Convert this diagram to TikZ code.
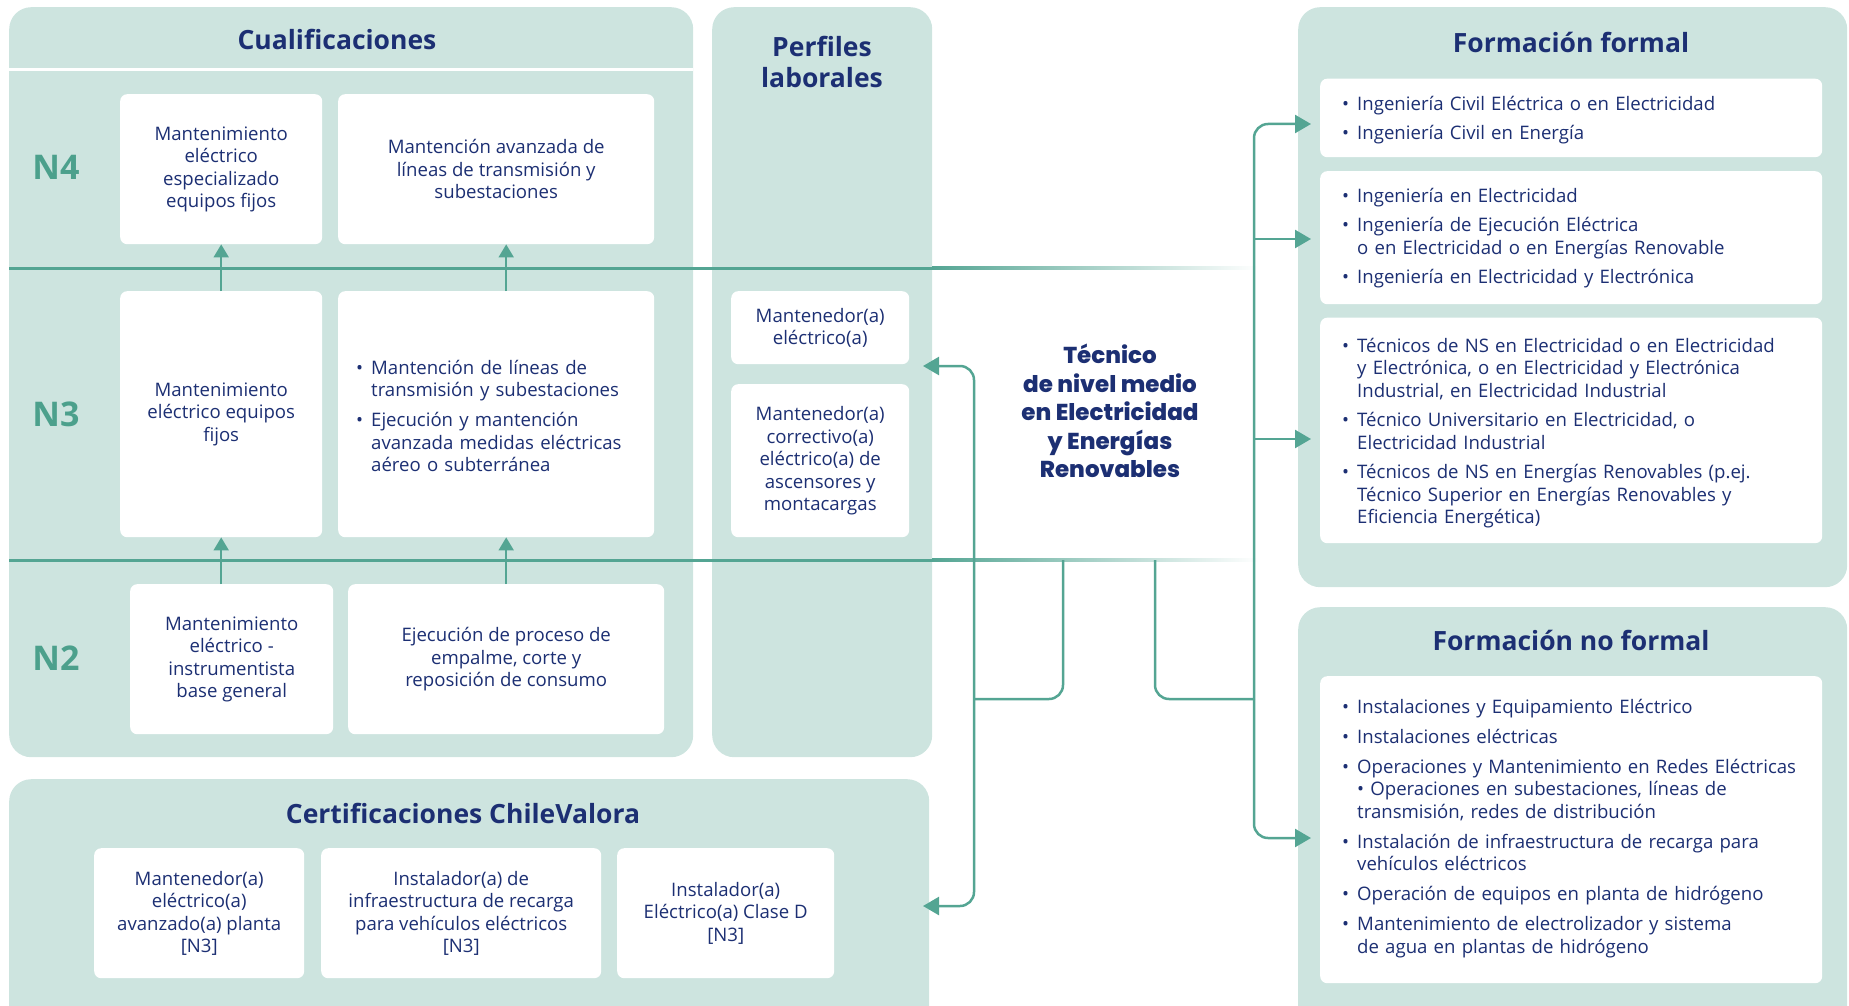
\documentclass[tikz,border=0pt]{standalone}
\usepackage{fontspec}
\setmainfont{Open Sans}
\newfontfamily\heavyfont{Poppins}[BoldFont={Poppins ExtraBold}]
\usetikzlibrary{arrows.meta,positioning,calc}

\definecolor{panelbg}{RGB}{205,228,223}
\definecolor{lineteal}{RGB}{84,165,147}
\definecolor{navy}{RGB}{28,47,115}
\definecolor{levelteal}{RGB}{76,160,140}

\newcommand\bodysize{\fontsize{18.6}{22.5}\selectfont}
\newcommand\bitem[1]{\par\hangindent=15pt\hangafter=1\noindent\makebox[15pt][l]{\textbullet}#1\par}

\tikzset{
  panel/.style={fill=panelbg, rounded corners=22pt, anchor=north west, inner sep=0pt},
  card/.style={fill=white, rounded corners=7pt, anchor=north west, inner sep=0pt,
    text=navy, align=center, font=\bodysize},
  bcard/.style={card, align=left},
  paneltitle/.style={text=navy, font=\fontsize{26.5}{31}\selectfont\bfseries, align=center},
  level/.style={text=levelteal, font=\fontsize{34}{40}\selectfont\bfseries},
  lvlline/.style={draw=lineteal, line width=3pt},
  uparr/.style={draw=lineteal, line width=2pt, -{Triangle[width=15pt,length=13pt]}},
  conn/.style={draw=lineteal, line width=2.5pt, rounded corners=14pt},
  connarr/.style={conn, -{Triangle[width=18pt,length=16pt]}},
}

\begin{document}
\begin{tikzpicture}[x=1pt, y=-1pt]
\useasboundingbox (0,0) rectangle (1849,1006);
\clip (0,0) rectangle (1849,1006);

% panels
\node[panel, minimum width=684pt, minimum height=750pt] (cual) at (9,7) {};
\node[panel, minimum width=220pt, minimum height=750pt] (perf) at (712,7) {};
\node[panel, minimum width=920pt, minimum height=260pt] (cert) at (9,779) {};
\node[panel, minimum width=549pt, minimum height=580pt] (fform) at (1298,7) {};
\node[panel, minimum width=549pt, minimum height=430pt] (fnof) at (1298,607) {};
\draw[white, line width=3pt] (9,70) -- (693,70);

% titles
\node[paneltitle] (cualt) at (337,39) {Cualificaciones};
\node[paneltitle] (perft) at (822,62) {Perfiles\\laborales};
\node[paneltitle] (certt) at (463,813) {Certificaciones ChileValora};
\node[paneltitle] (fformt) at (1571,42) {Formación formal};
\node[paneltitle] (fnoft) at (1571,640) {Formación no formal};

% levels
\node[level] (n4) at (56,167) {N4};
\node[level] (n3) at (56,414) {N3};
\node[level] (n2) at (56,658) {N2};
\draw[lvlline] (9,268) -- (932,268);
\draw[lvlline] (9,560) -- (932,560);
\shade[left color=lineteal, right color=white] (932,266.5) rectangle (1258,269.5);
\shade[left color=lineteal, right color=white] (932,558.5) rectangle (1258,561.5);

% cualificaciones
\node[card, minimum width=202pt, minimum height=150pt] (q4a) at (120,94)
  {Mantenimiento\\eléctrico\\especializado\\equipos fijos};
\node[card, minimum width=316pt, minimum height=150pt] (q4b) at (338,94)
  {Mantención avanzada de\\líneas de transmisión y\\subestaciones};
\node[card, minimum width=202pt, minimum height=246pt] (q3a) at (120,291)
  {Mantenimiento\\eléctrico equipos\\fijos};
\node[bcard, minimum width=316pt, minimum height=246pt, text width=280pt] (q3b) at (338,291)
  {\parskip=7.5pt
   \bitem{Mantención de líneas de\newline transmisión y subestaciones}
   \bitem{Ejecución y mantención\newline avanzada medidas eléctricas\newline aéreo o subterránea}\vspace{12pt}};
\node[card, minimum width=203pt, minimum height=150pt] (q2a) at (130,584)
  {Mantenimiento\\eléctrico -\\instrumentista\\base general};
\node[card, minimum width=316pt, minimum height=150pt] (q2b) at (348,584)
  {Ejecución de proceso de\\empalme, corte y\\reposición de consumo};
\draw[uparr] (q3a.north) -- (q4a.south);
\draw[uparr] (q2b.north |- q3b.north) -- (q2b.north |- q4b.south);
\draw[uparr] (q2a.north -| q3a.north) -- (q3a.south);
\draw[uparr] (q2b.north) -- (q2b.north |- q3b.south);

% perfiles
\node[card, minimum width=178pt, minimum height=73pt] (pf1) at (731,291)
  {Mantenedor(a)\\eléctrico(a)};
\node[card, minimum width=178pt, minimum height=153pt] (pf2) at (731,384)
  {Mantenedor(a)\\correctivo(a)\\eléctrico(a) de\\ascensores y\\montacargas};

% certificaciones
\node[card, minimum width=210pt, minimum height=130pt] (c1) at (94,848)
  {Mantenedor(a)\\eléctrico(a)\\avanzado(a) planta\\{[N3]}};
\node[card, minimum width=280pt, minimum height=130pt] (c2) at (321,848)
  {Instalador(a) de\\infraestructura de recarga\\para vehículos eléctricos\\{[N3]}};
\node[card, minimum width=217pt, minimum height=130pt] (c3) at (617,848)
  {Instalador(a)\\Eléctrico(a) Clase D\\{[N3]}};

% formacion formal
\node[bcard, minimum width=502pt, minimum height=78.5pt, text width=480pt] (ff1) at (1320,78.5)
  {\parskip=6.5pt\leftskip=11pt
   \bitem{Ingeniería Civil Eléctrica o en Electricidad}
   \bitem{Ingeniería Civil en Energía}\vspace{10pt}};
\node[bcard, minimum width=502pt, minimum height=133pt, text width=480pt] (ff2) at (1320,171)
  {\parskip=7pt\leftskip=11pt
   \bitem{Ingeniería en Electricidad}
   \bitem{Ingeniería de Ejecución Eléctrica\newline o en Electricidad o en Energías Renovable}
   \bitem{Ingeniería en Electricidad y Electrónica}\vspace{14pt}};
\node[bcard, minimum width=502pt, minimum height=225.5pt, text width=480pt] (ff3) at (1320,317.5)
  {\parskip=7pt\leftskip=11pt
   \bitem{Técnicos de NS en Electricidad o en Electricidad\newline y Electrónica, o en Electricidad y Electrónica\newline Industrial, en Electricidad Industrial}
   \bitem{Técnico Universitario en Electricidad, o\newline Electricidad Industrial}
   \bitem{Técnicos de NS en Energías Renovables (p.ej.\newline Técnico Superior en Energías Renovables y\newline Eficiencia Energética)}\vspace{10pt}};

% formacion no formal
\node[bcard, minimum width=502pt, minimum height=307pt, text width=480pt] (nf1) at (1320,676)
  {\parskip=7.5pt\leftskip=11pt
   \bitem{Instalaciones y Equipamiento Eléctrico}
   \bitem{Instalaciones eléctricas}
   \bitem{Operaciones y Mantenimiento en Redes Eléctricas\newline \textbullet\ Operaciones en subestaciones, líneas de\newline transmisión, redes de distribución}
   \bitem{Instalación de infraestructura de recarga para\newline vehículos eléctricos}
   \bitem{Operación de equipos en planta de hidrógeno}
   \bitem{Mantenimiento de electrolizador y sistema\newline de agua en plantas de hidrógeno}\vspace{18pt}};

% tecnico
\node[text=navy, align=center, font=\heavyfont\bfseries\fontsize{23}{28.5}\selectfont] (tec) at (1110,411)
  {Técnico\\de nivel medio\\en Electricidad\\y Energías\\Renovables};

% connectors
\coordinate (bl) at (1063,560);
\coordinate (br) at (1155,560);
\coordinate (jl) at (974,699);
\coordinate (jr) at (1254,699);
\coordinate (pin) at (923,366);
\coordinate (cin) at (923,906);
\coordinate (f1in) at (1311,124);
\coordinate (f2in) at (1311,239);
\coordinate (f3in) at (1311,439);
\coordinate (nfin) at (1311,838);
\draw[conn] (bl) |- (jl);
\draw[connarr] (jl) |- (pin);
\draw[connarr] (jl) |- (cin);
\draw[conn] (br) |- (jr);
\draw[connarr] (jr) |- (f1in);
\draw[connarr] (jr) |- (nfin);
\draw[connarr] (jr |- f2in) -- (f2in);
\draw[connarr] (jr |- f3in) -- (f3in);
\end{tikzpicture}
\end{document}
